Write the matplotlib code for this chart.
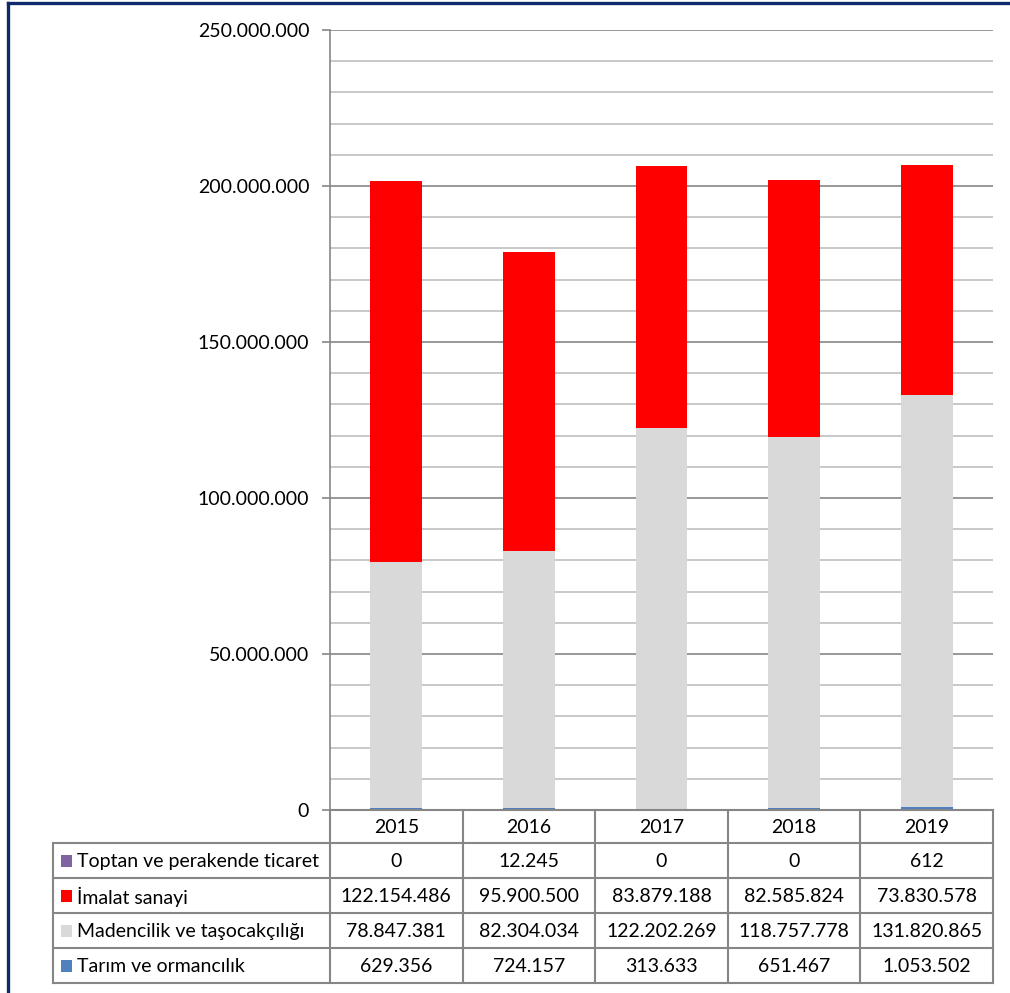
import matplotlib.pyplot as plt
import matplotlib.ticker as tkr
from matplotlib.lines import Line2D
from matplotlib.patches import Rectangle
import numpy as np

plt.rcParams["font.family"] = ["Lato", "DejaVu Sans"]
plt.rcParams["font.size"] = 14

# data
years = ["2015", "2016", "2017", "2018", "2019"]
series = ["Toptan ve perakende ticaret", "İmalat sanayi",
          "Madencilik ve taşocakçılığı", "Tarım ve ormancılık"]
toptan = [0, 12245, 0, 0, 612]
imalat = [122154486, 95900500, 83879188, 82585824, 73830578]
madencilik = [78847381, 82304034, 122202269, 118757778, 131820865]
tarim = [629356, 724157, 313633, 651467, 1053502]
colors = ["#8064A2", "#FF0000", "#D9D9D9", "#4F81BD"]

W, H = 1010, 993
fig = plt.figure(figsize=(W / 100, H / 100), dpi=100)

# plot area (pixel layout)
x0, x1, y_top, y_zero = 330, 993, 30, 810
ax = fig.add_axes([x0 / W, 1 - y_zero / H, (x1 - x0) / W, (y_zero - y_top) / H])

x = np.arange(len(years))
bottom = np.zeros(len(years))
stack = [(tarim, colors[3]), (madencilik, colors[2]), (imalat, colors[1]), (toptan, colors[0])]
for vals, c in stack:
    ax.bar(x, vals, 0.39, bottom=bottom, color=c, zorder=3)
    bottom += np.array(vals)

ax.set_xlim(-0.5, len(years) - 0.5)
ax.set_ylim(0, 250000000)
ax.yaxis.set_major_locator(tkr.MultipleLocator(50000000))
ax.yaxis.set_minor_locator(tkr.MultipleLocator(10000000))
ax.yaxis.set_major_formatter(tkr.FuncFormatter(lambda v, p: f"{int(v):,}".replace(",", ".")))
ax.grid(which="minor", axis="y", color="#BFBFBF", linewidth=1.2, zorder=1)
ax.grid(which="major", axis="y", color="#868686", linewidth=1.2, zorder=2)
ax.tick_params(axis="y", which="major", length=6, width=1.2, color="#868686", pad=9, labelsize=14)
ax.tick_params(axis="y", which="minor", length=0)
ax.set_xticks([])
for s in ["top", "right", "bottom"]:
    ax.spines[s].set_visible(False)
ax.spines["left"].set_color("#868686")
ax.spines["left"].set_linewidth(1.2)

# data table
t_left, t_bottom = 53, 983
hdr, rowh = 33, 35
ncol = len(years)
colw = (x1 - x0) / ncol
lab_w = (x0 - t_left) / colw
tab = fig.add_axes([t_left / W, 1 - t_bottom / H, (x1 - t_left) / W, (t_bottom - y_zero) / H])
tab.set_xlim(-0.5 - lab_w, ncol - 0.5)
tab.set_ylim(hdr + rowh * len(series), 0)
tab.axis("off")
gc = "#868686"
lw = 1.5
tot = hdr + rowh * len(series)
# horizontal lines
tab.plot([-0.5, ncol - 0.5], [0, 0], color=gc, lw=lw, clip_on=False)
for i in range(len(series) + 1):
    yy = hdr + i * rowh
    tab.plot([-0.5 - lab_w, ncol - 0.5], [yy, yy], color=gc, lw=lw, clip_on=False)
# vertical lines
tab.plot([-0.5 - lab_w] * 2, [hdr, tot], color=gc, lw=lw, clip_on=False)
for j in range(ncol + 1):
    tab.plot([j - 0.5] * 2, [0, tot], color=gc, lw=lw, clip_on=False)

for j, yr in enumerate(years):
    tab.text(j, hdr / 2 + 1, yr, ha="center", va="center")

table_vals = [toptan, imalat, madencilik, tarim]
for i, (name, vals, c) in enumerate(zip(series, table_vals, colors)):
    yc = hdr + i * rowh + rowh / 2
    tab.add_patch(Rectangle((-0.5 - lab_w + 0.06, yc - 6), 0.085, 12,
                            facecolor=c, edgecolor="none", clip_on=False))
    tab.text(-0.5 - lab_w + 0.18, yc + 1, name, ha="left", va="center")
    for j, v in enumerate(vals):
        tab.text(j, yc + 1, f"{v:,}".replace(",", "."), ha="center", va="center")

# navy frame
navy = "#0E2A6B"
fig.add_artist(Line2D([7.5 / W, 7.5 / W], [0, 1 - 2.5 / H], color=navy, lw=2.4))
fig.add_artist(Line2D([7.5 / W, 1], [1 - 2.5 / H, 1 - 2.5 / H], color=navy, lw=2.4))

fig.savefig("out.png", dpi=100)
